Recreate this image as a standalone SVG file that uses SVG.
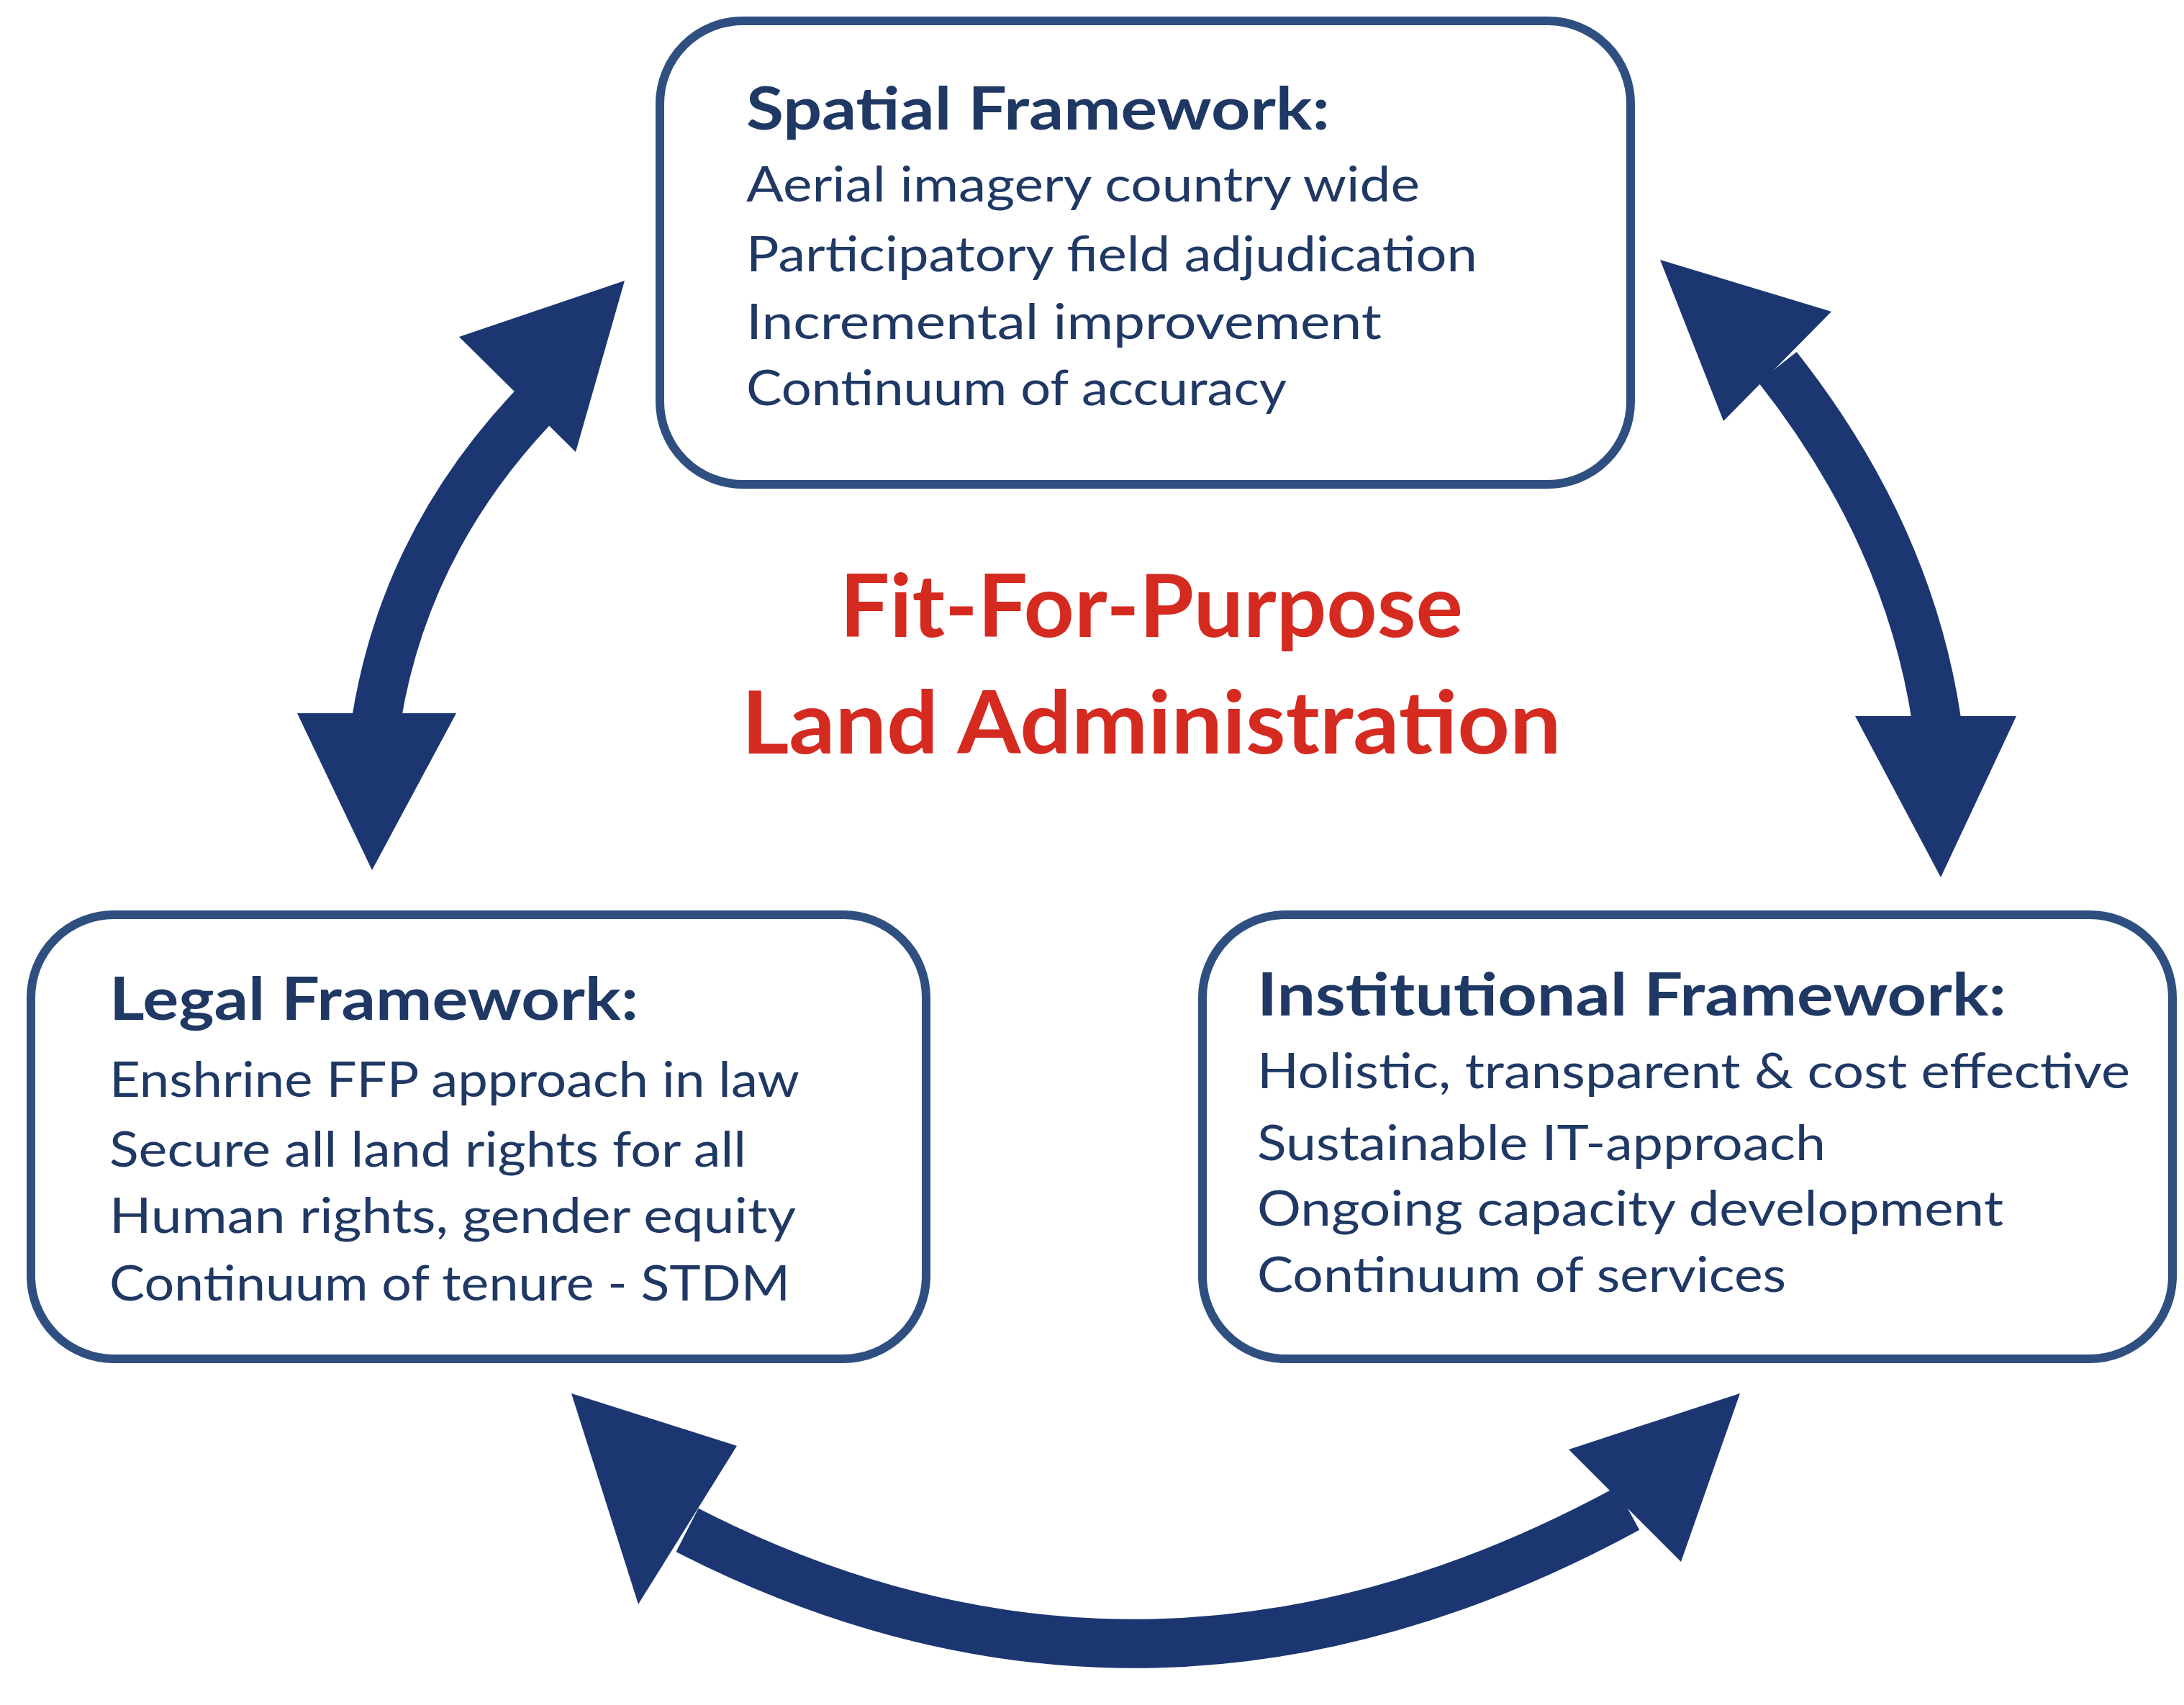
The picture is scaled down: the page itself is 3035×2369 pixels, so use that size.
<svg xmlns="http://www.w3.org/2000/svg" width="3035" height="2369" viewBox="0 0 3035 2369">
<style>
.box{fill:#fff;stroke:#2f4f80;stroke-width:12}
.t{font-family:Lato,"Liberation Sans",sans-serif;fill:#1f3864}
.h{font-size:82px;font-weight:bold}
.l{font-size:68px}
.c{font-family:Lato,"Liberation Sans",sans-serif;fill:#d42a1f;font-size:120px;font-weight:bold;text-anchor:middle}
.body{fill:none;stroke:#1c3672;stroke-width:68}
.head{fill:#1c3672}
</style>
<g id="connectors">
<path class="body" d="M760,546 Q565,741 523,1000"/>
<polygon class="head" points="868,390 638,468 800,628"/>
<polygon class="head" points="517,1209 413,991 634,991"/>
<path class="body" d="M2470,510 Q2652,741 2691,1000"/>
<polygon class="head" points="2307,361 2545,433 2395,585"/>
<polygon class="head" points="2697,1219 2578,995 2802,995"/>
<path class="body" d="M955,2126 Q1600,2456 2262,2096"/>
<polygon class="head" points="794,1936 1024,2009 887,2229"/>
<polygon class="head" points="2418,1936 2180,2014 2336,2170"/>
</g>
<g id="spatial">
<rect class="box" x="917" y="29" width="1349" height="644" rx="115"/>
<text class="t h" x="1037" y="180" textLength="811" lengthAdjust="spacingAndGlyphs">Spatial Framework:</text>
<text class="t l" x="1037" y="280" textLength="936" lengthAdjust="spacingAndGlyphs">Aerial imagery country wide</text>
<text class="t l" x="1037" y="377" textLength="1016" lengthAdjust="spacingAndGlyphs">Participatory field adjudication</text>
<text class="t l" x="1037" y="471" textLength="883" lengthAdjust="spacingAndGlyphs">Incremental improvement</text>
<text class="t l" x="1037" y="563" textLength="751" lengthAdjust="spacingAndGlyphs">Continuum of accuracy</text>
</g>
<g id="center">
<text class="c" x="1600" y="885" textLength="866" lengthAdjust="spacingAndGlyphs">Fit-For-Purpose</text>
<text class="c" x="1600" y="1047" textLength="1139" lengthAdjust="spacingAndGlyphs">Land Administration</text>
</g>
<g id="legal">
<rect class="box" x="43" y="1271" width="1244" height="617" rx="115"/>
<text class="t h" x="152" y="1417" textLength="735" lengthAdjust="spacingAndGlyphs">Legal Framework:</text>
<text class="t l" x="152" y="1524" textLength="959" lengthAdjust="spacingAndGlyphs">Enshrine FFP approach in law</text>
<text class="t l" x="152" y="1621" textLength="885" lengthAdjust="spacingAndGlyphs">Secure all land rights for all</text>
<text class="t l" x="152" y="1713" textLength="954" lengthAdjust="spacingAndGlyphs">Human rights, gender equity</text>
<text class="t l" x="152" y="1807" textLength="946" lengthAdjust="spacingAndGlyphs">Continuum of tenure - STDM</text>
</g>
<g id="institutional">
<rect class="box" x="1671" y="1271" width="1348" height="617" rx="115"/>
<text class="t h" x="1747" y="1411" textLength="1041" lengthAdjust="spacingAndGlyphs">Institutional Framework:</text>
<text class="t l" x="1747" y="1512" textLength="1213" lengthAdjust="spacingAndGlyphs">Holistic, transparent &amp; cost effective</text>
<text class="t l" x="1747" y="1612" textLength="790" lengthAdjust="spacingAndGlyphs">Sustainable IT-approach</text>
<text class="t l" x="1747" y="1703" textLength="1037" lengthAdjust="spacingAndGlyphs">Ongoing capacity development</text>
<text class="t l" x="1747" y="1795" textLength="735" lengthAdjust="spacingAndGlyphs">Continuum of services</text>
</g>
</svg>
